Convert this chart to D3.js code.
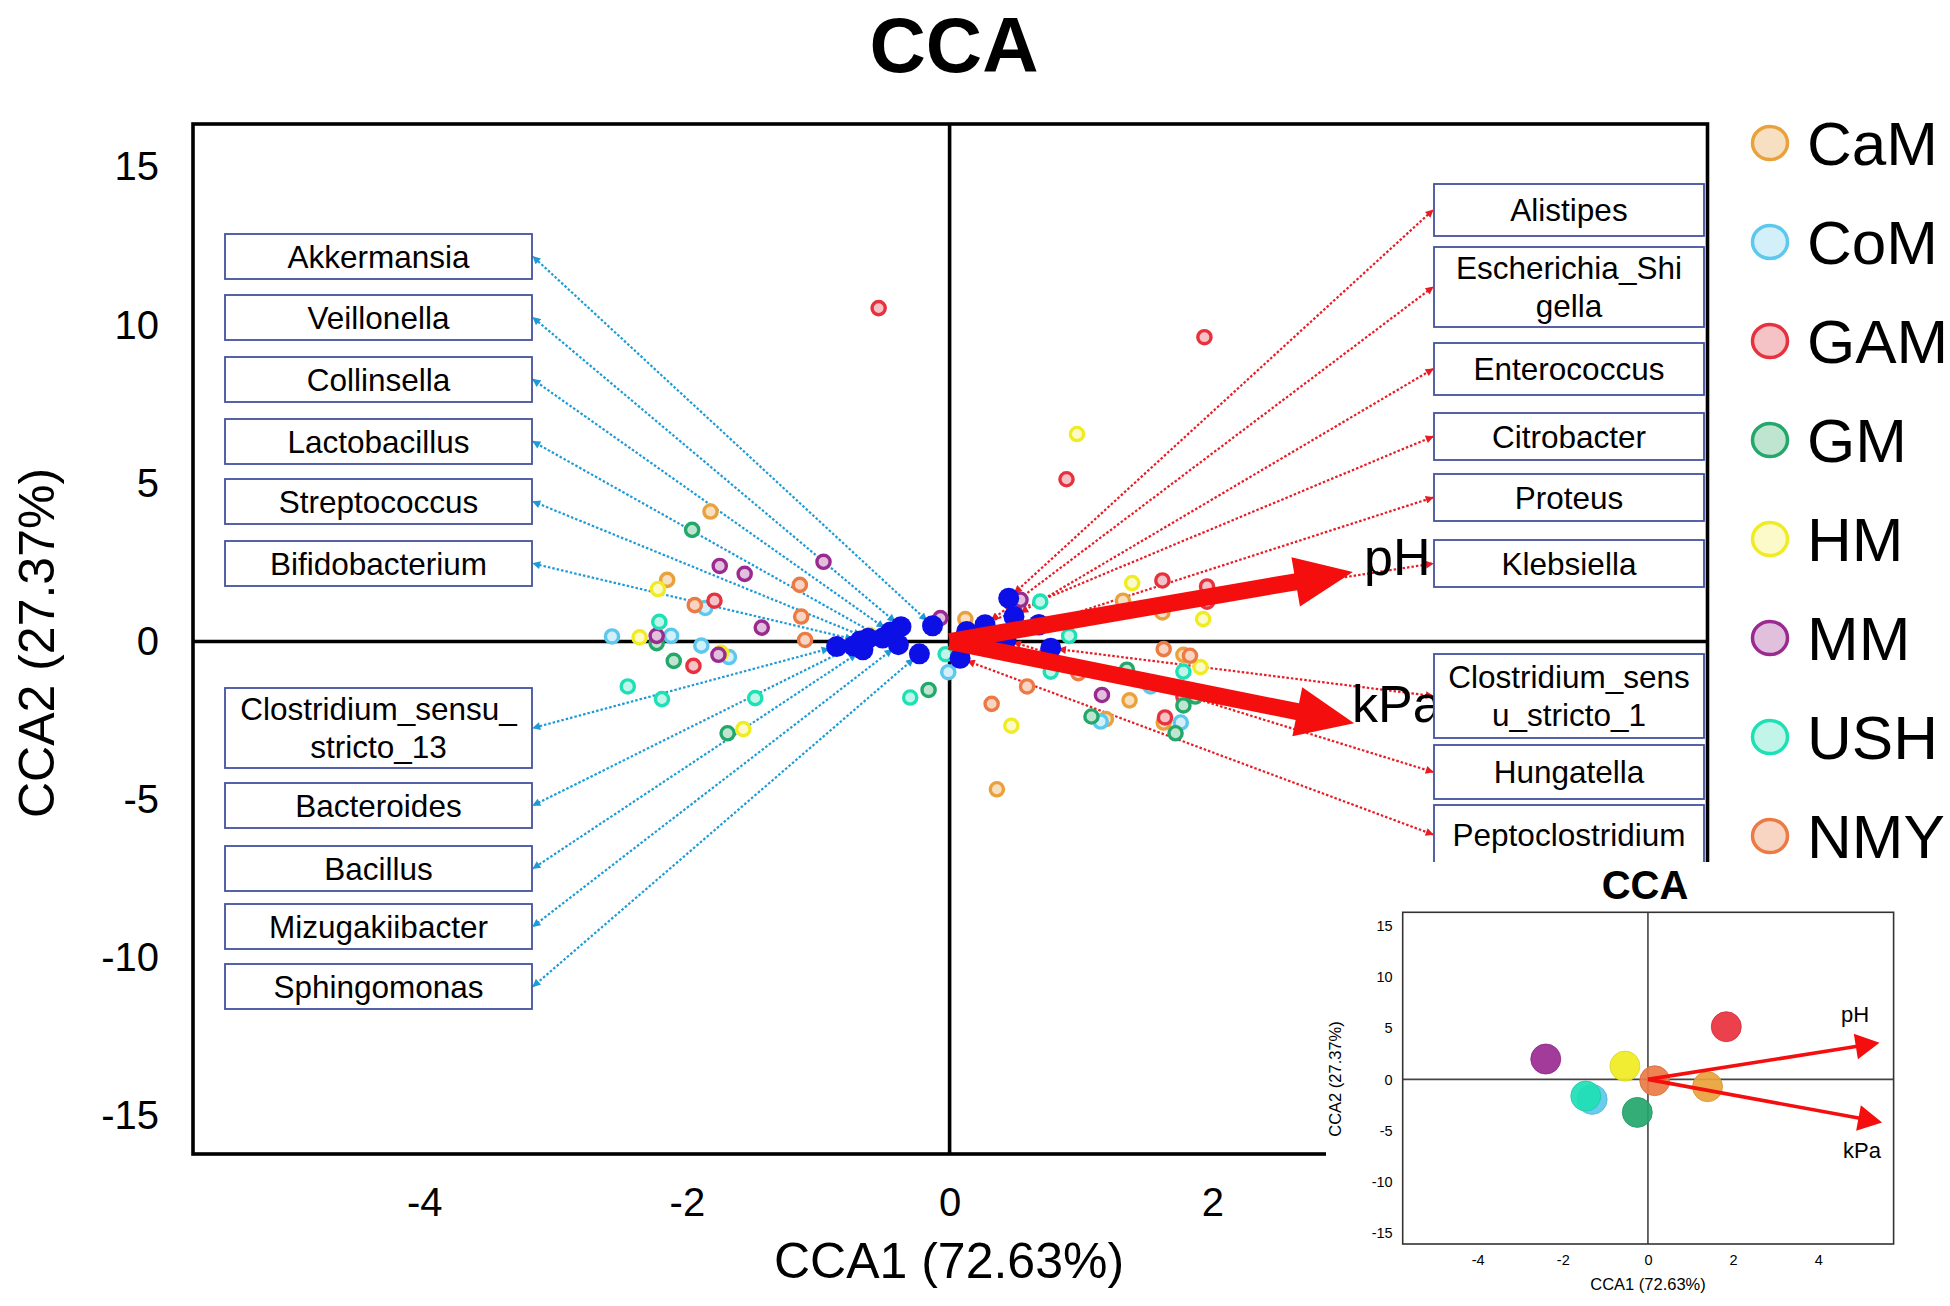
<!DOCTYPE html>
<html>
<head>
<meta charset="utf-8">
<script src="https://cdn.jsdelivr.net/npm/d3@7"></script>
<style>
  body { margin: 0; background: #fff; }
  svg { display: block; }
  text { font-family: "Liberation Sans", Arial, sans-serif; }
</style>
</head>
<body>
<svg width="1950" height="1306"></svg>
<script>
// ---- data ----
const groupNames  = ["CaM", "CoM", "GAM", "GM", "HM", "MM", "USH", "NMY"];
const groupStroke = ["#E9A23B", "#5CC8EE", "#E8313E", "#23A76A", "#F0EC22", "#9A2A90", "#1EE0B5", "#EB7A44"];
const groupFill   = ["#F7DFC2", "#D3EFFA", "#F5C2C6", "#BFE5D1", "#FCFAC9", "#E0C0DC", "#C2F5E9", "#F8D4C3"];

// samples: [group, CCA1, CCA2]
const samples = [
  ["CaM", -1.82, 4.11], ["CaM", -2.15, 1.95], ["CaM", 0.12, 0.71], ["CaM", 1.32, 1.29], ["CaM", 1.62, 0.92],
  ["CaM", 1.78, -0.42], ["CaM", 1.37, -1.86], ["CaM", 1.19, -2.45], ["CaM", 1.63, -2.56], ["CaM", 0.36, -4.67],
  ["CoM", -1.86, 1.06], ["CoM", -2.57, 0.16], ["CoM", -2.12, 0.18], ["CoM", -1.89, -0.13], ["CoM", -1.68, -0.49],
  ["CoM", -0.01, -0.97], ["CoM", 1.15, -2.53], ["CoM", 1.76, -2.56], ["CoM", 1.53, -1.42],
  ["GAM", -0.54, 10.54], ["GAM", 1.94, 9.62], ["GAM", 0.89, 5.13], ["GAM", -1.79, 1.29], ["GAM", -1.95, -0.77],
  ["GAM", 1.62, 1.93], ["GAM", 1.96, 1.74], ["GAM", 1.96, 1.26], ["GAM", 1.64, -2.40], ["GAM", 1.78, -1.74],
  ["GM", -1.96, 3.53], ["GM", -2.23, -0.05], ["GM", -2.10, -0.61], ["GM", -1.69, -2.90], ["GM", -0.16, -1.53],
  ["GM", 1.08, -2.37], ["GM", 1.72, -2.90], ["GM", 1.78, -2.02], ["GM", 1.87, -1.74], ["GM", 1.35, -0.89],
  ["HM", -2.22, 1.66], ["HM", -2.36, 0.13], ["HM", -1.57, -2.77], ["HM", -1.74, -0.36], ["HM", -0.61, 0.21],
  ["HM", 0.97, 6.56], ["HM", 1.39, 1.85], ["HM", 1.93, 0.71], ["HM", 1.91, -0.81], ["HM", 0.47, -2.66],
  ["MM", -1.75, 2.39], ["MM", -1.56, 2.14], ["MM", -0.96, 2.52], ["MM", -1.43, 0.44], ["MM", -2.23, 0.18],
  ["MM", -1.76, -0.42], ["MM", -0.07, 0.74], ["MM", 0.54, 1.32], ["MM", 1.16, -1.69],
  ["USH", -2.21, 0.62], ["USH", -2.45, -1.42], ["USH", -2.19, -1.82], ["USH", -1.48, -1.79], ["USH", -0.30, -1.77],
  ["USH", -0.03, -0.40], ["USH", 0.69, 1.26], ["USH", 0.91, 0.18], ["USH", 1.78, -0.95], ["USH", 0.77, -0.95],
  ["NMY", -1.94, 1.15], ["NMY", -1.14, 1.79], ["NMY", -1.13, 0.79], ["NMY", -1.10, 0.05], ["NMY", 0.59, -1.42],
  ["NMY", 0.32, -1.97], ["NMY", 1.63, -0.24], ["NMY", 1.83, -0.45], ["NMY", 0.98, -1.00]
];

// genera (blue points) and their scores
const leftTaxa = ["Akkermansia", "Veillonella", "Collinsella", "Lactobacillus", "Streptococcus", "Bifidobacterium",
  "Clostridium_sensu_\nstricto_13", "Bacteroides", "Bacillus", "Mizugakiibacter", "Sphingomonas"];
const leftTaxaScores = [[-0.13, 0.50], [-0.37, 0.47], [-0.45, 0.30], [-0.51, 0.11], [-0.62, 0.10], [-0.68, 0.02],
  [-0.86, -0.16], [-0.73, -0.14], [-0.66, -0.26], [-0.39, -0.10], [-0.23, -0.39]];
const rightTaxa = ["Alistipes", "Escherichia_Shi\ngella", "Enterococcus", "Citrobacter", "Proteus", "Klebsiella",
  "Clostridium_sens\nu_stricto_1", "Hungatella", "Peptoclostridium"];
const rightTaxaScores = [[0.45, 1.37], [0.27, 0.53], [0.49, 0.79], [0.13, 0.32], [0.68, 0.53], [0.68, 0.53],
  [0.77, -0.21], [0.43, 0.05], [0.08, -0.53]];

// environmental vectors
const envNames = ["pH", "kPa"];
const envMain  = [[3.07, 2.20], [3.08, -2.58]];
const envInset = [[5.44, 3.58], [5.50, -4.21]];

// group centroids for the small plot (groupNames order)
const groupCentroids = [[1.40, -0.72], [-1.31, -1.96], [1.84, 5.15], [-0.25, -3.23],
  [-0.54, 1.30], [-2.40, 1.99], [-1.46, -1.63], [0.16, -0.13]];

const tickY = [-15, -10, -5, 0, 5, 10, 15];
const tickX = [-4, -2, 0, 2, 4];

// ---- layout ----
const svg = d3.select("svg");
const P = { left: 193, right: 1707.5, top: 124, bottom: 1154 };
const x = d3.scaleLinear().domain([-5.76, 5.77]).range([P.left, P.right]);
const y = d3.scaleLinear().domain([-16.2, 16.36]).range([P.bottom, P.top]);
const color = d3.scaleOrdinal().domain(groupNames).range(groupStroke);
const fill  = d3.scaleOrdinal().domain(groupNames).range(groupFill);
const plainFmt = d => String(d);

// box layout (pixels): left column and right column
const leftBox  = { x0: 225, x1: 532, tops: [234, 295, 357, 419, 479, 541, 688, 783, 846, 904, 964] };
const rightBox = { x0: 1434, x1: 1704, tops: [184, 247, 343, 413, 474, 540, 654, 745, 805],
                   heights: [52, 80, 52, 47, 47, 47, 84, 54, 59] };

const defs = svg.append("defs");
function marker(id, col, orient) {
  defs.append("marker").attr("id", id)
    .attr("viewBox", "0 0 10 10").attr("refX", 9).attr("refY", 5)
    .attr("markerWidth", 9).attr("markerHeight", 8)
    .attr("markerUnits", "userSpaceOnUse")
    .attr("orient", orient)
    .append("path").attr("d", "M0,0 L10,5 L0,10 Z").attr("fill", col);
}
marker("bEnd", "#1E9BD7", "auto");
marker("bStart", "#1E9BD7", "auto-start-reverse");
marker("rEnd", "#E81C24", "auto");
marker("rStart", "#E81C24", "auto-start-reverse");

svg.append("text").attr("x", 954).attr("y", 72).attr("text-anchor", "middle")
  .attr("font-size", 78).attr("font-weight", "bold").text("CCA");

// zero lines
svg.append("line").attr("x1", P.left).attr("x2", P.right).attr("y1", y(0)).attr("y2", y(0))
  .attr("stroke", "#000").attr("stroke-width", 3.6);
svg.append("line").attr("x1", x(0)).attr("x2", x(0)).attr("y1", P.top).attr("y2", P.bottom)
  .attr("stroke", "#000").attr("stroke-width", 3.6);

// dotted connectors from genus point to its box
function connector(score, bx, by, col, mS, mE) {
  const px = x(score[0]), py = y(score[1]);
  const dx = bx - px, dy = by - py, d = Math.hypot(dx, dy);
  const sx = px + dx / d * 8, sy = py + dy / d * 8;
  svg.append("line").attr("x1", sx).attr("y1", sy).attr("x2", bx).attr("y2", by)
    .attr("stroke", col).attr("stroke-width", 2.2).attr("stroke-dasharray", "2.5,2")
    .attr("marker-start", `url(#${mS})`).attr("marker-end", `url(#${mE})`);
}
leftTaxa.forEach((t, i) => {
  const h = t.includes("\n") ? 80 : 45;
  connector(leftTaxaScores[i], leftBox.x1 + 1, leftBox.tops[i] + h / 2, "#1E9BD7", "bStart", "bEnd");
});
rightTaxa.forEach((t, i) => {
  connector(rightTaxaScores[i], rightBox.x0 - 1, rightBox.tops[i] + rightBox.heights[i] / 2, "#E81C24", "rStart", "rEnd");
});

// samples
svg.append("g").selectAll("circle").data(samples).join("circle")
  .attr("cx", d => x(d[1])).attr("cy", d => y(d[2])).attr("r", 6.6)
  .attr("fill", d => fill(d[0])).attr("stroke", d => color(d[0])).attr("stroke-width", 3.4);

// genera points
svg.append("g").selectAll("circle").data(leftTaxaScores.concat(rightTaxaScores)).join("circle")
  .attr("cx", d => x(d[0])).attr("cy", d => y(d[1])).attr("r", 10.5).attr("fill", "#0C10E6");

// big environment arrows
function bigArrow(g, x0, y0, x1, y1, w, hw, hl, col) {
  const L = Math.hypot(x1 - x0, y1 - y0), ux = (x1 - x0) / L, uy = (y1 - y0) / L;
  const nx = -uy, ny = ux, bx = x1 - ux * hl, by = y1 - uy * hl;
  const pts = [[x0 + nx * w, y0 + ny * w], [bx + nx * w, by + ny * w], [bx + nx * hw, by + ny * hw], [x1, y1],
    [bx - nx * hw, by - ny * hw], [bx - nx * w, by - ny * w], [x0 - nx * w, y0 - ny * w]];
  g.append("polygon").attr("points", pts.map(p => p.join(",")).join(" ")).attr("fill", col);
}
envMain.forEach(v => bigArrow(svg, x(0), y(0), x(v[0]), y(v[1]), 8.5, 25, 58, "#F50E0E"));
svg.append("text").attr("x", 1364).attr("y", 575).attr("font-size", 52).text(envNames[0]);
svg.append("text").attr("x", 1352).attr("y", 722).attr("font-size", 52).text(envNames[1]);

// label boxes
function box(t, x0, x1, top, h) {
  svg.append("rect").attr("x", x0).attr("y", top).attr("width", x1 - x0).attr("height", h)
    .attr("fill", "#fff").attr("stroke", "#44529E").attr("stroke-width", 1.8);
  const lines = t.split("\n");
  const cy = top + h / 2;
  lines.forEach((ln, k) => {
    svg.append("text").attr("x", (x0 + x1) / 2).attr("y", cy + (k - (lines.length - 1) / 2) * 38)
      .attr("dy", "0.36em").attr("text-anchor", "middle").attr("font-size", 31.5).text(ln);
  });
}
leftTaxa.forEach((t, i) => box(t, leftBox.x0, leftBox.x1, leftBox.tops[i], t.includes("\n") ? 80 : 45));
rightTaxa.forEach((t, i) => box(t, rightBox.x0, rightBox.x1, rightBox.tops[i], rightBox.heights[i]));

// frame
svg.append("rect").attr("x", P.left).attr("y", P.top).attr("width", P.right - P.left).attr("height", P.bottom - P.top)
  .attr("fill", "none").attr("stroke", "#000").attr("stroke-width", 3.6);

// axes
const ya = svg.append("g").attr("transform", `translate(${P.left},0)`)
  .call(d3.axisLeft(y).tickValues(tickY).tickFormat(plainFmt).tickSize(0).tickPadding(34));
const xa = svg.append("g").attr("transform", `translate(0,${P.bottom})`)
  .call(d3.axisBottom(x).tickValues(tickX).tickFormat(plainFmt).tickSize(0).tickPadding(34));
[ya, xa].forEach(a => {
  a.select(".domain").remove();
  a.selectAll("text").attr("font-size", 40).attr("font-family", "Liberation Sans, Arial, sans-serif").attr("fill", "#000");
});
svg.append("text").attr("x", 949).attr("y", 1278).attr("text-anchor", "middle").attr("font-size", 50).text("CCA1 (72.63%)");
svg.append("text").attr("transform", "translate(54,643) rotate(-90)").attr("text-anchor", "middle")
  .attr("font-size", 50).text("CCA2 (27.37%)");

// legend
const leg = svg.append("g").selectAll("g").data(groupNames).join("g")
  .attr("transform", (d, i) => `translate(1770,${143 + i * 99})`);
leg.append("ellipse").attr("rx", 17.5).attr("ry", 16.5).attr("fill", d => fill(d))
  .attr("stroke", d => color(d)).attr("stroke-width", 3.5);
leg.append("text").attr("x", 37).attr("dy", "0.36em").attr("font-size", 62).text(d => d);

// ---- inset ----
svg.append("rect").attr("x", 1326).attr("y", 862).attr("width", 624).attr("height", 444).attr("fill", "#fff");
const I = { left: 1402.7, right: 1893.6, top: 912.3, bottom: 1244 };
const xi = d3.scaleLinear().domain([-5.76, 5.77]).range([I.left, I.right]);
const yi = d3.scaleLinear().domain([-16.1, 16.34]).range([I.bottom, I.top]);
const ins = svg.append("g");
ins.append("text").attr("x", 1645).attr("y", 899).attr("text-anchor", "middle")
  .attr("font-size", 40).attr("font-weight", "bold").text("CCA");
ins.append("line").attr("x1", I.left).attr("x2", I.right).attr("y1", yi(0)).attr("y2", yi(0))
  .attr("stroke", "#444").attr("stroke-width", 1.6);
ins.append("line").attr("x1", xi(0)).attr("x2", xi(0)).attr("y1", I.top).attr("y2", I.bottom)
  .attr("stroke", "#444").attr("stroke-width", 1.6);
ins.selectAll("circle").data(groupCentroids).join("circle")
  .attr("cx", d => xi(d[0])).attr("cy", d => yi(d[1])).attr("r", 15)
  .attr("fill", (d, i) => groupStroke[i]).attr("fill-opacity", 0.92)
  .attr("stroke", (d, i) => d3.color(groupStroke[i]).darker(0.3)).attr("stroke-width", 0.8);
envInset.forEach(v => bigArrow(ins, xi(0), yi(0), xi(v[0]), yi(v[1]), 1.8, 13, 24, "#F50E0E"));
ins.append("text").attr("x", 1855).attr("y", 1022).attr("text-anchor", "middle").attr("font-size", 22).text(envNames[0]);
ins.append("text").attr("x", 1862).attr("y", 1158).attr("text-anchor", "middle").attr("font-size", 22).text(envNames[1]);
ins.append("rect").attr("x", I.left).attr("y", I.top).attr("width", I.right - I.left).attr("height", I.bottom - I.top)
  .attr("fill", "none").attr("stroke", "#333").attr("stroke-width", 1.6);
const yia = ins.append("g").attr("transform", `translate(${I.left},0)`)
  .call(d3.axisLeft(yi).tickValues(tickY).tickFormat(plainFmt).tickSize(0).tickPadding(10));
const xia = ins.append("g").attr("transform", `translate(0,${I.bottom})`)
  .call(d3.axisBottom(xi).tickValues(tickX).tickFormat(plainFmt).tickSize(0).tickPadding(11));
[yia, xia].forEach(a => {
  a.select(".domain").remove();
  a.selectAll("text").attr("font-size", 14.5).attr("font-family", "Liberation Sans, Arial, sans-serif").attr("fill", "#000");
});
ins.append("text").attr("x", 1648).attr("y", 1290).attr("text-anchor", "middle").attr("font-size", 16.5).text("CCA1 (72.63%)");
ins.append("text").attr("transform", "translate(1341,1079) rotate(-90)").attr("text-anchor", "middle")
  .attr("font-size", 16.5).text("CCA2 (27.37%)");
</script>
</body>
</html>
